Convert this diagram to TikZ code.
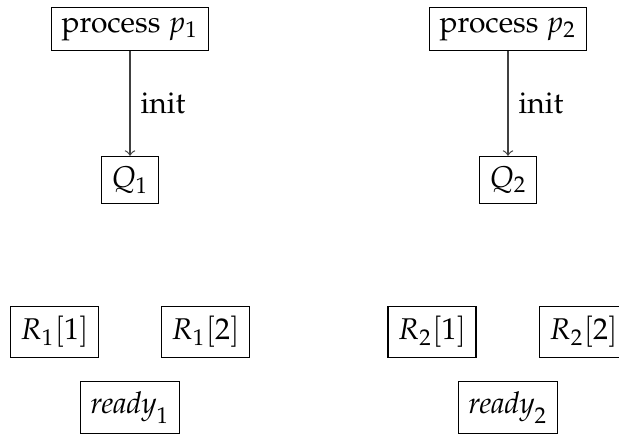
\documentclass[tikz,border=0pt]{standalone}
\usepackage[T1]{fontenc}
\usepackage{mathpazo}
\begin{document}
\begin{tikzpicture}[x=0.3333pt,y=-0.3333pt,
  box/.style={draw, inner sep=3.333pt},
  conn/.style={->, >=to, draw=black!75}]
\useasboundingbox (0,0) rectangle (619,433);
\node[box] (p1) at (130,29) {process $p_1$};
\node[box] (p2) at (508,29) {process $p_2$};
\node[box] (q1) at (130,180) {$Q_1$};
\node[box] (q2) at (508,180) {$Q_2$};
\node[box] (r11) at (54.5,332) {$R_1[1]$};
\node[box] (r12) at (205.5,332) {$R_1[2]$};
\node[box] (r21) at (432,332) {$R_2[1]$};
\node[box] (r22) at (583.5,332) {$R_2[2]$};
\node[box] (rd1) at (130,407.5) {$\mathit{ready}_1$};
\node[box] (rd2) at (508,407.5) {$\mathit{ready}_2$};
\draw[conn] (p1) -- node[right] {init} (q1);
\draw[conn] (p2) -- node[right] {init} (q2);
\end{tikzpicture}
\end{document}
